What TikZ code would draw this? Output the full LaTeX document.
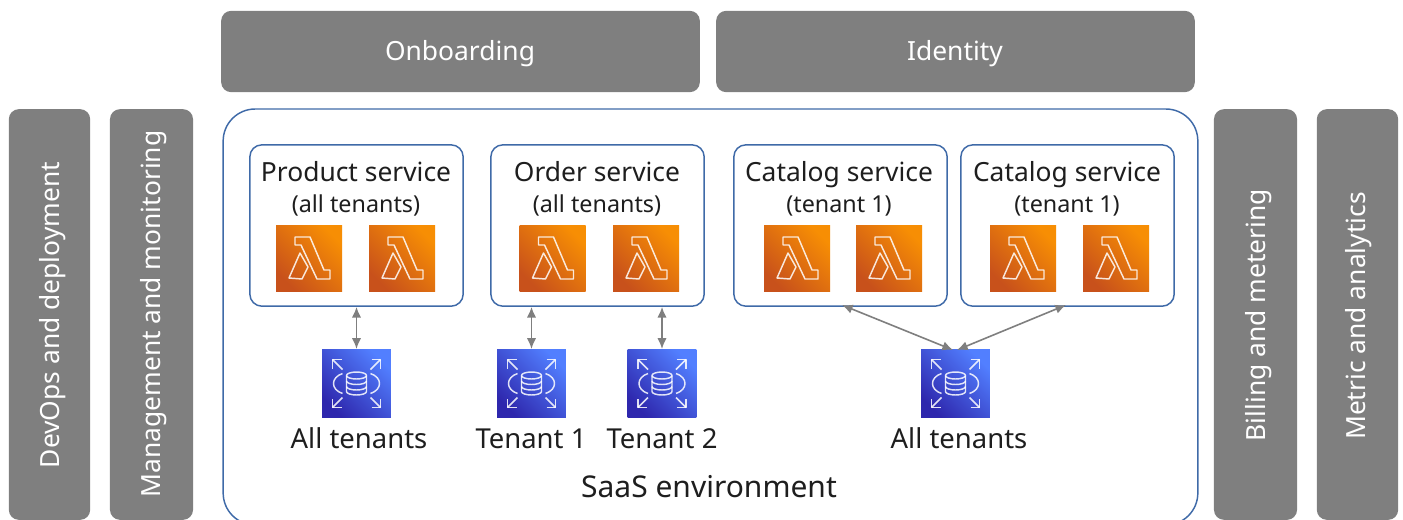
\documentclass[tikz,border=0pt]{standalone}
\usepackage{fontspec}
\setmainfont{Noto Sans}
\usetikzlibrary{arrows.meta}
\definecolor{barg}{HTML}{7F7F7F}
\definecolor{edge}{HTML}{3F6AA8}
\definecolor{lamd}{HTML}{C8511B}
\definecolor{laml}{HTML}{F78E04}
\definecolor{dbd}{HTML}{2E27AD}
\definecolor{dbl}{HTML}{527FFF}
\definecolor{ink}{HTML}{1E1E1E}
\tikzset{
  x=0.75pt,y=-0.75pt,
  bar/.style={fill=barg,rounded corners=7.5pt,text=white,inner sep=0pt},
  hbar/.style={bar,minimum width=359pt,minimum height=61pt},
  vbar/.style={bar,minimum height=61pt,minimum width=308pt,rotate=90},
  widebar/.style={vbar,minimum height=62.3pt},
  htxt/.style={text=white,font=\fontsize{19.8}{23}\selectfont,inner sep=0pt,anchor=base},
  vtxt/.style={htxt,rotate=90},
  svc/.style={draw=edge,line width=1.1pt,fill=white,rounded corners=9pt,minimum width=160pt,minimum height=121pt,inner sep=0pt},
  svctxt/.style={anchor=base,text=ink,inner sep=0pt,font=\fontsize{19.8}{23}\selectfont},
  subtxt/.style={anchor=base,text=ink,font=\fontsize{17.5}{20}\selectfont,inner sep=0pt},
  lam/.style={minimum size=49.5pt,inner sep=0pt,shade,left color=lamd,right color=laml,shading angle=135},
  db/.style={minimum size=51.5pt,inner sep=0pt,shade,left color=dbd,right color=dbl,shading angle=135},
  captxt/.style={anchor=base,text=ink,font=\fontsize{20.6}{24}\selectfont,inner sep=0pt},
  conn/.style={draw=barg,line width=1.2pt,{Latex[length=8pt,width=7pt]}-{Latex[length=8pt,width=7pt]}},
  gly/.style={draw=white,opacity=.85,line width=1.1pt,line join=round},
}
\newcommand{\lamglyph}[1]{%
  \begin{scope}[shift={(#1)}]
    \draw[gly] (-14,-21) -- (1,-21) -- (15,12) -- (21,12) -- (21,21) -- (8,21) -- (-8,-13) -- (-14,-13) -- cycle;
    \draw[gly] (-9,-5) -- (-20,20) -- (-7,21) -- (-1,9) -- cycle;
  \end{scope}}
\newcommand{\dbglyph}[1]{%
  \begin{scope}[shift={(#1)}]
    \draw[gly] (-10,-8) -- (-10,8) arc[start angle=180,end angle=0,x radius=10,y radius=3.5] -- (10,-8);
    \draw[gly] (0,-8) ellipse[x radius=10,y radius=3.5];
    \draw[gly] (-10,-2.5) arc[start angle=180,end angle=0,x radius=10,y radius=3.5];
    \draw[gly] (-10,3) arc[start angle=180,end angle=0,x radius=10,y radius=3.5];
    \draw[gly] (-14,-10) .. controls (-26,-6) and (-26,6) .. (-14,10);
    \draw[gly] (14,-10) .. controls (26,-6) and (26,6) .. (14,10);
    \foreach \sx/\sy in {1/1,1/-1,-1/1,-1/-1}{
      \draw[gly] (\sx*14,\sy*14) -- (\sx*24,\sy*24);
      \draw[gly] (\sx*15,\sy*24) -- (\sx*24,\sy*24) -- (\sx*24,\sy*15);
    }
  \end{scope}}
\begin{document}
\begin{tikzpicture}
\useasboundingbox (0,0) rectangle (1403,519);
\node[hbar] (onb) at (460.5,51.5) {};
\node[hbar] (idn) at (955.5,51.5) {};
\node[htxt] (tonb) at (460,60) {Onboarding};
\node[htxt] (tidn) at (955,60) {Identity};
\node[vbar] (devops) at (49.5,314.5) {};
\node[widebar] (mgmt) at (151.5,314.5) {};
\node[widebar] (bill) at (1255.5,314.5) {};
\node[vbar] (metr) at (1357.5,314.5) {};
\node[vtxt] (tdev) at (59,315) {DevOps and deployment};
\node[vtxt] (tmg) at (160,314) {Management and monitoring};
\node[vtxt] (tbl) at (1265,315) {Billing and metering};
\node[vtxt] (tmt) at (1365,316) {Metric and analytics};
\node[draw=edge,line width=1.1pt,rounded corners=24pt,minimum width=731pt,minimum height=312pt,inner sep=0pt] (saas) at (710.5,317) {};
\node[svc] (s1) at (356.5,225.5) {};
\node[svc] (s2) at (597.5,225.5) {};
\node[svc] (s3) at (840.5,225.5) {};
\node[svc] (s4) at (1067.5,225.5) {};
\node[svctxt] (t1) at (356,181) {Product service};
\node[svctxt] (t2) at (597,181) {Order service};
\node[svctxt] (t3) at (839,181) {Catalog service};
\node[svctxt] (t4) at (1067,181) {Catalog service};
\node[subtxt] (u1) at (356,212) {(all tenants)};
\node[subtxt] (u2) at (597,212) {(all tenants)};
\node[subtxt] (u3) at (839,212) {(tenant 1)};
\node[subtxt] (u4) at (1067,212) {(tenant 1)};
\foreach \n/\px in {a/309,b/402,c/552.5,d/646,e/797,f/889,g/1023,h/1116}{
  \node[lam] (\n) at (\px,258) {};
  \lamglyph{\n}
}
\foreach \n/\px in {p/356.5,q/531.5,r/662,s/955.5}{
  \node[db] (\n) at (\px,383.5) {};
  \dbglyph{\n}
}
\node[captxt] (c1) at (359,448) {All tenants};
\node[captxt] (c2) at (531,448) {Tenant 1};
\node[captxt] (c3) at (662,448) {Tenant 2};
\node[captxt] (c4) at (959,448) {All tenants};
\node[anchor=base,text=ink,font=\fontsize{22.5}{26}\selectfont,inner sep=0pt] (lab) at (709,497) {SaaS environment};
\draw[conn] (s1.south -| p) -- (p.north);
\draw[conn] (s2.south -| q) -- (q.north);
\draw[conn] (s2.south -| r) -- (r.north);
\coordinate (sl) at (953,350);
\coordinate (sr) at (957,350);
\coordinate (k3) at (842,305);
\coordinate (k4) at (1066,305);
\draw[conn] (k3) -- (sl);
\draw[conn] (k4) -- (sr);
\end{tikzpicture}
\end{document}
